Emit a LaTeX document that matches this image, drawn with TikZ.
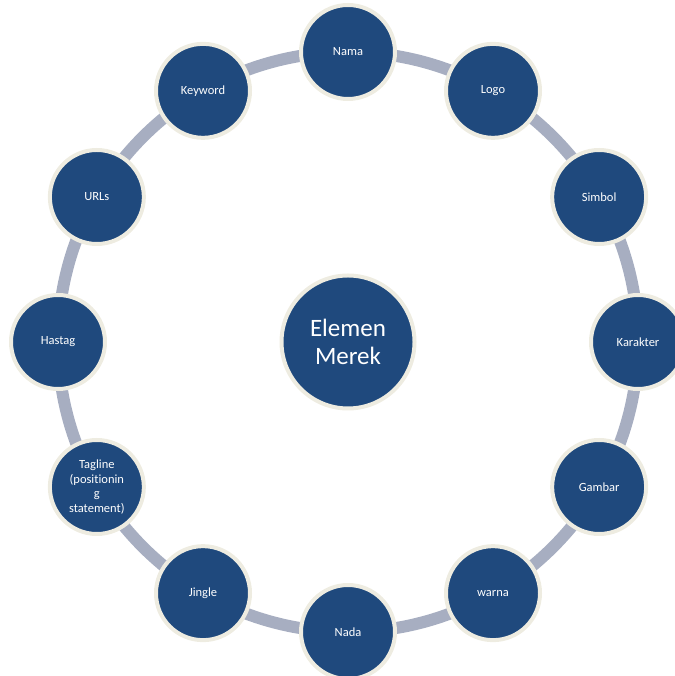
\documentclass[tikz,border=0pt]{standalone}
\usepackage{fontspec}
\setmainfont[Ligatures={NoCommon}]{Carlito}
\usetikzlibrary{calc}
\definecolor{nodeblue}{HTML}{1F497D}
\definecolor{nodeedge}{HTML}{EEECE1}
\definecolor{ringgray}{HTML}{A7AEC1}
\tikzset{
  elem/.style={circle, fill=nodeblue, draw=nodeedge, line width=4pt, minimum size=94pt, inner sep=0pt,
    text=white, align=center, font=\fontsize{12.5pt}{14.5pt}\selectfont},
  hub/.style={circle, fill=nodeblue, draw=nodeedge, line width=4pt, minimum size=133pt, inner sep=0pt,
    text=white, align=center, font=\fontsize{25pt}{28pt}\selectfont},
  ring/.style={draw=ringgray, line width=12pt}
}
\begin{document}
\begin{tikzpicture}[x=1pt,y=1pt]
\useasboundingbox (0,0) rectangle (674,676);
\coordinate (c) at (348,334);
\draw[ring] (c) circle (290);
\node[hub] (hub) at (c) {Elemen\\Merek};
\node[elem] (nama) at ($(c)+(90:290)$) {Nama};
\node[elem] (logo) at ($(c)+(60:290)$) {Logo};
\node[elem] (simbol) at ($(c)+(30:290)$) {Simbol};
\node[elem] (karakter) at ($(c)+(0:290)$) {Karakter};
\node[elem] (gambar) at ($(c)+(-30:290)$) {Gambar};
\node[elem] (warna) at ($(c)+(-60:290)$) {warna};
\node[elem] (nada) at ($(c)+(-90:290)$) {Nada};
\node[elem] (jingle) at ($(c)+(-120:290)$) {Jingle};
\node[elem] (tagline) at ($(c)+(-150:290)$) {Tagline\\(positionin\\g\\statement)};
\node[elem] (hastag) at ($(c)+(180:290)$) {Hastag};
\node[elem] (urls) at ($(c)+(150:290)$) {URLs};
\node[elem] (keyword) at ($(c)+(120:290)$) {Keyword};
\end{tikzpicture}
\end{document}
